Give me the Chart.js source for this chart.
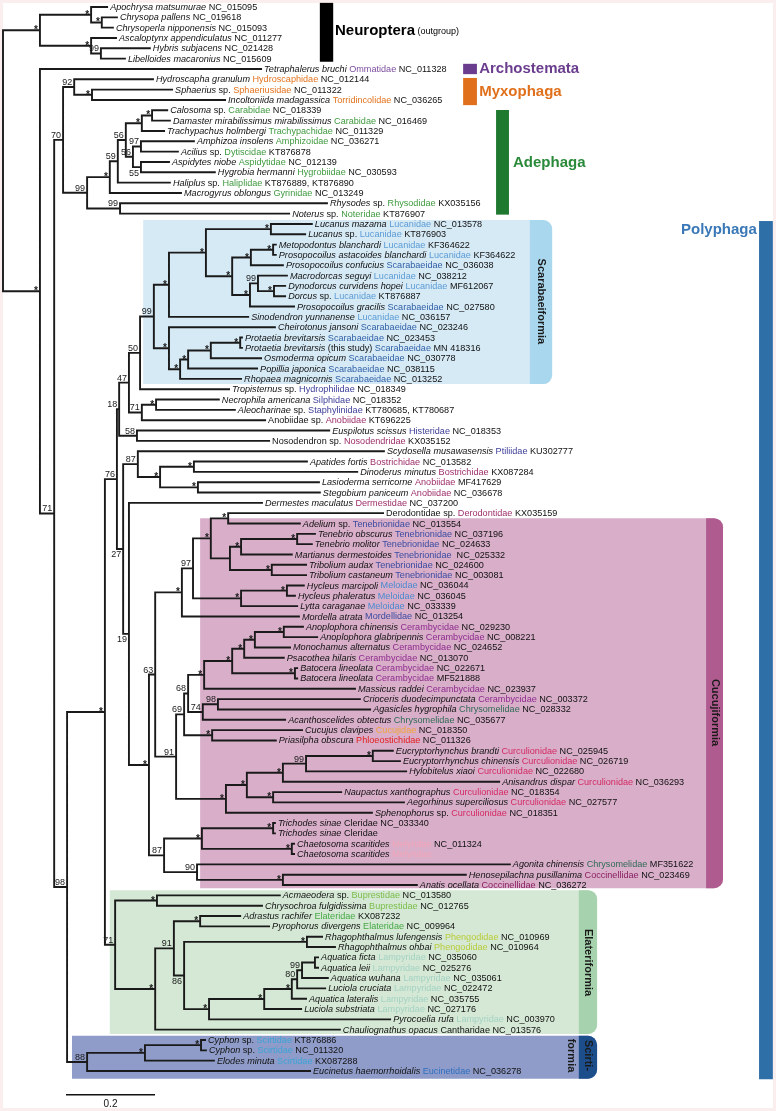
<!DOCTYPE html>
<html><head><meta charset="utf-8">
<script src="https://cdn.jsdelivr.net/npm/chart.js@4.4.0/dist/chart.umd.min.js"></script>
<style>html,body{margin:0;padding:0;background:#fff;}canvas{display:block;}</style>
</head><body>
<canvas id="c" width="776" height="1111"></canvas>
<script>
// ================= DATA =================
// internal nodes: name, parent, depth (substitutions/site), support
const nodeNames = ['ROOT','NEU','CHRY','C2','ASC','A2','CROWN','N71','N70','MYXO','SPH','ADE','ADE1','N59','N56a','CAR','C3','N56b','N97a','N55','RN',
 'N98','POLY1','N76','N18','N47','N50','SCARAB','LUC','LA','LM','LB','LC','LC2','LD','LE','LF','SCA','SCA1','SCA2','SCA3','PRO','N71b','SIL','N58',
 'N27','N87','BOS','BOS1','ANO','N19','CUC','N63','TEN','N97b','TEN2','AD','T230','T241','TM','TRI','MEL','HY','N91','N69','N68','CER','CER2','CER3',
 'CER4','AN','BAT','N74','N98b','CUJ','CUR','CUR2','CUR3','N99c','CUR5','CUR4','N87c','CL','TR','CH','N90','COC','ELAT','BUP','E2','N91e','ELA','N86',
 'RHAG','LAMP','L2','L3','L4','L5','L6','SCIRT','S1','CY'];
const nodeParents = [null,'ROOT','NEU','CHRY','NEU','ASC','ROOT','CROWN','N71','N70','MYXO','N70','ADE','ADE1','N59','N56a','CAR','N56a','N56b','N56b','ADE',
 'N71','N98','POLY1','N76','N18','N47','N50','SCARAB','LUC','LA','LA','LB','LC','LB','LD','LE','SCARAB','SCA','SCA1','SCA2','SCA3','N47','N71b','N18',
 'N76','N27','N87','BOS','BOS','N27','N19','CUC','N63','TEN','N97b','TEN2','TEN2','T230','T241','T230','N97b','MEL','N63','N91','N69','N68','CER','CER2',
 'CER3','CER4','CER2','N68','N74','N69','N91','CUR','CUR2','CUR3','N99c','CUR2','CUC','N87c','CL','CL','N87c','N90','POLY1','ELAT','ELAT','E2','N91e','N91e',
 'N86','N86','LAMP','L2','L3','L4','L5','N98','SCIRT','S1'];
const nodeDepths = [0,0.083,0.198,0.222,0.198,0.220,0.083,0.115,0.135,0.160,0.200,0.189,0.240,0.258,0.276,0.312,0.335,0.292,0.310,0.310,0.263,
 0.144,0.229,0.256,0.261,0.283,0.308,0.339,0.373,0.456,0.602,0.515,0.557,0.607,0.555,0.573,0.609,0.373,0.398,0.416,0.467,0.533,0.312,0.344,0.301,
 0.270,0.303,0.353,0.429,0.438,0.283,0.328,0.342,0.402,0.427,0.467,0.506,0.510,0.535,0.661,0.604,0.535,0.638,0.389,0.407,0.416,0.452,0.515,0.542,
 0.566,0.631,0.656,0.449,0.483,0.470,0.501,0.548,0.629,0.681,0.831,0.607,0.362,0.447,0.607,0.649,0.436,0.629,0.252,0.346,0.342,0.384,0.443,0.407,
 0.683,0.463,0.587,0.649,0.661,0.672,0.701,0.189,0.319,0.445];
const nodeSupport = ['','*','*','*','*','99','*','71','70','92','*','99','*','59','56','*','*','56','97','55','99',
 '98','*','76','18','47','50','99','*','*','*','*','*','*','*','99','*','*','*','*','*','*','71','*','58',
 '27','87','*','*','*','19','*','63','*','97','*','*','','*','*','*','*','*','91','69','68','*','*','*',
 '*','*','*','74','98','*','*','*','*','99','*','*','87','*','*','*','90','*','71','*','*','91','*','86',
 '*','*','*','*','80','99','','88','*','*'];

// tips (top to bottom)
const tipSpecies = ['Apochrysa matsumurae','Chrysopa pallens','Chrysoperla nipponensis','Ascaloptynx appendiculatus','Hybris subjacens','Libelloides macaronius',
 'Tetraphalerus bruchi','Hydroscapha granulum','Sphaerius','Incoltoniida madagassica','Calosoma','Damaster mirabilissimus mirabilissimus','Trachypachus holmbergi',
 'Amphizoa insolens','Acilius','Aspidytes niobe','Hygrobia hermanni','Haliplus','Macrogyrus oblongus','Rhysodes','Noterus',
 'Lucanus mazama','Lucanus','Metopodontus blanchardi','Prosopocoilus astacoides blanchardi','Prosopocoilus confucius','Macrodorcas seguyi','Dynodorcus curvidens hopei',
 'Dorcus','Prosopocoilus gracilis','Sinodendron yunnanense','Cheirotonus jansoni','Protaetia brevitarsis','Protaetia brevitarsis','Osmoderma opicum','Popillia japonica',
 'Rhopaea magnicornis','Tropisternus','Necrophila americana','Aleocharinae','','Euspilotus scissus','','Scydosella musawasensis','Apatides fortis','Dinoderus minutus',
 'Lasioderma serricorne','Stegobium paniceum','Dermestes maculatus','','Adelium','Tenebrio obscurus','Tenebrio molitor','Martianus dermestoides','Tribolium audax',
 'Tribolium castaneum','Hycleus marcipoli','Hycleus phaleratus','Lytta caraganae','Mordella atrata','Anoplophora chinensis','Anoplophora glabripennis',
 'Monochamus alternatus','Psacothea hilaris','Batocera lineolata','Batocera lineolata','Massicus raddei','Crioceris duodecimpunctata','Agasicles hygrophila',
 'Acanthoscelides obtectus','Cucujus clavipes','Priasilpha obscura','Eucryptorhynchus brandti','Eucryptorrhynchus chinensis','Hylobitelus xiaoi','Anisandrus dispar',
 'Naupactus xanthographus','Aegorhinus superciliosus','Sphenophorus','Trichodes sinae','Trichodes sinae','Chaetosoma scaritides','Chaetosoma scaritides',
 'Agonita chinensis','Henosepilachna pusillanima','Anatis ocellata','Acmaeodera','Chrysochroa fulgidissima','Adrastus rachifer','Pyrophorus divergens',
 'Rhagophthalmus lufengensis','Rhagophthalmus ohbai','Aquatica ficta','Aquatica leii','Aquatica wuhana','Luciola cruciata','Aquatica lateralis','Luciola substriata',
 'Pyrocoelia rufa','Chauliognathus opacus','Cyphon','Cyphon','Elodes minuta','Eucinetus haemorrhoidalis'];
const tipQualifier = [
 '','','','','','','','',' sp.','',
 ' sp.','','','',' sp.','','',' sp.','',' sp.',
 ' sp.','',' sp.','','','','','',' sp.','',
 '','','',' (this study)','','','',' sp.','',' sp.',
 'Anobiidae sp.','','Nosodendron sp.','','','','','','','Derodontidae sp.',
 ' sp.','','','','','','','','','',
 '','','','','','','','','','',
 '','','','','','','','',' sp.','',
 '','','','','','',' sp.','','','',
 '','','','','','','','','','',
 ' sp.',' sp.','',''];
const tipFamily = ['','','','','','','Ommatidae','Hydroscaphidae','Sphaeriusidae','Torridincolidae','Carabidae','Carabidae','Trachypachidae','Amphizoidae',
 'Dytiscidae','Aspidytidae','Hygrobiidae','Haliplidae','Gyrinidae','Rhysodidae','Noteridae','Lucanidae','Lucanidae','Lucanidae','Lucanidae','Scarabaeidae',
 'Lucanidae','Lucanidae','Lucanidae','Scarabaeidae','Lucanidae','Scarabaeidae','Scarabaeidae','Scarabaeidae','Scarabaeidae','Scarabaeidae','Scarabaeidae',
 'Hydrophilidae','Silphidae','Staphylinidae','Anobiidae','Histeridae','Nosodendridae','Ptiliidae','Bostrichidae','Bostrichidae','Anobiidae','Anobiidae',
 'Dermestidae','Derodontidae','Tenebrionidae','Tenebrionidae','Tenebrionidae','Tenebrionidae','Tenebrionidae','Tenebrionidae','Meloidae','Meloidae','Meloidae',
 'Mordellidae','Cerambycidae','Cerambycidae','Cerambycidae','Cerambycidae','Cerambycidae','Cerambycidae','Cerambycidae','Cerambycidae','Chrysomelidae',
 'Chrysomelidae','Cucujidae','Phloeostichidae','Curculionidae','Curculionidae','Curculionidae','Curculionidae','Curculionidae','Curculionidae','Curculionidae',
 'Cleridae','Cleridae','Melyridae','Melyridae','Chrysomelidae','Coccinellidae','Coccinellidae','Buprestidae','Buprestidae','Elateridae','Elateridae',
 'Phengodidae','Phengodidae','Lampyridae','Lampyridae','Lampyridae','Lampyridae','Lampyridae','Lampyridae','Lampyridae','Cantharidae','Scirtidae','Scirtidae',
 'Scirtidae','Eucinetidae'];
const tipAccession = ['NC_015095','NC_019618','NC_015093','NC_011277','NC_021428','NC_015609','NC_011328','NC_012144','NC_011322','NC_036265','NC_018339',
 'NC_016469','NC_011329','NC_036271','KT876878','NC_012139','NC_030593','KT876889, KT876890','NC_013249','KX035156','KT876907','NC_013578','KT876903',
 'KF364622','KF364622','NC_036038','NC_038212','MF612067','KT876887','NC_027580','NC_036157','NC_023246','NC_023453','MN 418316','NC_030778','NC_038115',
 'NC_013252','NC_018349','NC_018352','KT780685, KT780687','KT696225','NC_018353','KX035152','KU302777','NC_013582','KX087284','MF417629','NC_036678',
 'NC_037200','KX035159','NC_013554','NC_037196','NC_024633',' NC_025332','NC_024600','NC_003081','NC_036044','NC_036045','NC_033339','NC_013254','NC_029230',
 'NC_008221','NC_024652','NC_013070','NC_022671','MF521888','NC_023937','NC_003372','NC_028332','NC_035677','NC_018350','NC_011326','NC_025945','NC_026719',
 'NC_022680','NC_036293','NC_018354','NC_027577','NC_018351','NC_033340','','NC_011324','','MF351622','NC_023469','NC_036272','NC_013580','NC_012765',
 'KX087232','NC_009964','NC_010969','NC_010964','NC_035060','NC_025276','NC_035061','NC_022472','NC_035755','NC_027176','NC_003970','NC_013576','KT876886',
 'NC_011320','KX087288','NC_036278'];
const tipParents = ['CHRY','C2','C2','ASC','A2','A2','CROWN','MYXO','SPH','SPH','C3','C3','CAR','N97a','N97a','N55','N55','N59','ADE1','RN','RN',
 'LM','LM','LC2','LC2','LC','LE','LF','LF','LD','LUC','SCA','PRO','PRO','SCA3','SCA2','SCA1','N50','SIL','SIL','N71b','N58','N58','N87','BOS1','BOS1',
 'ANO','ANO','N19','AD','AD','TM','TM','T241','TRI','TRI','HY','HY','MEL','TEN','AN','AN','CER4','CER3','BAT','BAT','CER','N98b','N98b','N74','CUJ','CUJ',
 'CUR5','CUR5','N99c','CUR3','CUR4','CUR4','CUR','TR','TR','CH','CH','N90','COC','COC','BUP','BUP','ELA','ELA','RHAG','RHAG','L6','L6','L5','L4','L3','L2',
 'LAMP','E2','CY','CY','S1','SCIRT'];
const tipDepths = [0.234,0.256,0.247,0.254,0.330,0.274,0.580,0.337,0.380,0.499,0.369,0.375,0.362,0.429,0.393,0.373,0.476,0.375,0.400,0.728,0.643,
 0.694,0.679,0.613,0.613,0.629,0.638,0.634,0.634,0.654,0.551,0.611,0.537,0.537,0.580,0.571,0.535,0.508,0.485,0.521,0.589,0.733,0.598,0.856,0.683,0.796,
 0.710,0.712,0.582,0.854,0.667,0.701,0.694,0.649,0.681,0.681,0.676,0.656,0.661,0.665,0.674,0.706,0.645,0.631,0.661,0.661,0.791,0.802,0.825,0.634,0.672,0.613,
 0.876,0.892,0.906,1.115,0.760,0.901,0.829,0.611,0.611,0.654,0.654,1.139,1.040,0.930,0.622,0.582,0.533,0.598,0.717,0.746,0.708,0.708,0.730,0.724,0.681,0.670,
 0.870,0.757,0.454,0.456,0.474,0.690];
const scaleBarLength = 0.2;

// ================= STYLE =================
const F = '"Liberation Sans", Arial, Helvetica, sans-serif';
const TIP_FONT = 9.1;
const familyColors = {
 Ommatidae:'#7d4e9e', Hydroscaphidae:'#e3731e', Sphaeriusidae:'#e3731e', Torridincolidae:'#e3731e',
 Carabidae:'#3f9a3f', Trachypachidae:'#3f9a3f', Amphizoidae:'#3f9a3f', Dytiscidae:'#3f9a3f', Aspidytidae:'#3f9a3f', Hygrobiidae:'#3f9a3f',
 Haliplidae:'#3f9a3f', Gyrinidae:'#3f9a3f', Rhysodidae:'#3f9a3f', Noteridae:'#3f9a3f',
 Lucanidae:'#5b9bd5', Scarabaeidae:'#2f5fa6', Hydrophilidae:'#3d3d99', Silphidae:'#3d3d99', Staphylinidae:'#3d3d99', Histeridae:'#3d3d99', Ptiliidae:'#3d3d99',
 Anobiidae:'#9e2f6b', Nosodendridae:'#9e2f6b', Bostrichidae:'#9e2f6b', Dermestidae:'#9e2f6b', Derodontidae:'#9e2f6b',
 Tenebrionidae:'#3a4ba0', Mordellidae:'#3a4ba0', Meloidae:'#4a8ad0', Cerambycidae:'#8e2b8e', Chrysomelidae:'#2e6b55', Cucujidae:'#f2a33a',
 Phloeostichidae:'#e32020', Curculionidae:'#d42a63', Cleridae:'#111111', Melyridae:'#f4a6b8', Coccinellidae:'#8a2060', Buprestidae:'#7bbd4a',
 Elateridae:'#45a845', Phengodidae:'#b8cc3a', Lampyridae:'#a3d2c3', Cantharidae:'#111111', Scirtidae:'#3ba3d6', Eucinetidae:'#2d6fc0'
};
const labelsBelow = new Set(['N55','N27','N19','N86']);
const cladeBoxes = [
 {lines:['Scarabaeiformia'], first:21, last:36, pad:[0.38,0.5], x0:0.315, tab:1.184, x1:1.234, body:'#d6eaf6', tabColor:'#a9d7ee', shift:0},
 {lines:['Cucujiformia'], first:50, last:85, pad:[0.52,0.3], x0:0.443, tab:1.580, x1:1.618, body:'#d8aec9', tabColor:'#b05b8f', shift:0.8},
 {lines:['Elateriformia'], first:86, last:99, pad:[0.5,0.42], x0:0.240, tab:1.294, x1:1.335, body:'#d5e8d5', tabColor:'#a6d3ad', shift:0},
 {lines:['Scirti-','formia'], first:100, last:103, pad:[0.4,0.75], x0:0.155, tab:1.294, x1:1.335, body:'#8f9cc9', tabColor:'#1c4e8b', shift:0}
];
const orderBars = [
 {text:'Neuroptera', sub:' (outgroup)', color:'#000', barColor:'#000', x0:0.712, x1:0.742, r0:-0.4, r1:5.3, tx:0.746, ty:2.3},
 {text:'Archostemata', color:'#6b3d8e', barColor:'#6b3d8e', x0:1.034, x1:1.065, r0:5.5, r1:6.5, tx:1.070, ty:5.95},
 {text:'Myxophaga', color:'#e0701c', barColor:'#e0701c', x0:1.034, x1:1.065, r0:6.87, r1:9.5, tx:1.070, ty:8.2},
 {text:'Adephaga', color:'#2a8a3a', barColor:'#1f7a30', x0:1.108, x1:1.137, r0:9.97, r1:20.1, tx:1.146, ty:15.1},
 {text:'Polyphaga', color:'#3a78b8', barColor:'#2f6fa8', x0:1.699, x1:1.730, r0:20.72, r1:103.8, tx:1.694, ty:21.6, right:true}
];

// ================= TREE LAYOUT (computed) =================
const nodeIndex = {}; nodeNames.forEach((n,i)=>nodeIndex[n]=i);
const children = nodeNames.map(()=>[]);
nodeParents.forEach((p,i)=>{ if(p!==null) children[nodeIndex[p]].push({type:'node', i}); });
tipParents.forEach((p,i)=>children[nodeIndex[p]].push({type:'tip', i}));
const nodeY = new Array(nodeNames.length).fill(null);
function yOf(c){ return c.type==='tip' ? c.i : computeNodeY(c.i); }
function xOf(c){ return c.type==='tip' ? tipDepths[c.i] : nodeDepths[c.i]; }
function computeNodeY(i){
  if(nodeY[i]!==null) return nodeY[i];
  const ys = children[i].map(yOf);
  nodeY[i] = (Math.min(...ys)+Math.max(...ys))/2;
  return nodeY[i];
}
nodeNames.forEach((_,i)=>computeNodeY(i));

const branchPts = [];
nodeNames.forEach((_,i)=>{
  const ch = children[i].slice().sort((a,b)=>yOf(a)-yOf(b));
  const nx = nodeDepths[i];
  const top = ch[0], bot = ch[ch.length-1];
  branchPts.push({x:xOf(top), y:yOf(top)},{x:nx, y:yOf(top)},{x:nx, y:yOf(bot)},{x:xOf(bot), y:yOf(bot)},{x:null,y:null});
  ch.slice(1,-1).forEach(c=>branchPts.push({x:nx,y:yOf(c)},{x:xOf(c),y:yOf(c)},{x:null,y:null}));
});

// ================= DRAWING PLUGIN =================
const treePlugin = {
  id:'treeDecor',
  beforeDraw(chart){
    const ctx = chart.ctx, W = chart.width, H = chart.height;
    ctx.save();
    ctx.fillStyle = '#fbeeee'; ctx.fillRect(0,0,W,H);
    ctx.fillStyle = '#ffffff'; ctx.fillRect(3,3,W-6,H-6);
    ctx.restore();
  },
  beforeDatasetsDraw(chart){
    const ctx = chart.ctx, sx = chart.scales.x, sy = chart.scales.y;
    ctx.save();
    cladeBoxes.forEach(b=>{
      const x0 = sx.getPixelForValue(b.x0), xt = sx.getPixelForValue(b.tab), x1 = sx.getPixelForValue(b.x1);
      const y0 = sy.getPixelForValue(b.first - b.pad[0]), y1 = sy.getPixelForValue(b.last + b.pad[1]);
      ctx.fillStyle = b.body;
      ctx.beginPath(); ctx.roundRect(x0, y0, x1-x0, y1-y0, [0,9,9,0]); ctx.fill();
      ctx.fillStyle = b.tabColor;
      ctx.beginPath(); ctx.roundRect(xt, y0, x1-xt, y1-y0, [0,9,9,0]); ctx.fill();
      ctx.save();
      const cy = sy.getPixelForValue((b.first + b.last)/2 + b.shift);
      ctx.translate((xt+x1)/2, cy);
      ctx.rotate(Math.PI/2);
      ctx.fillStyle = '#1a1a1a';
      ctx.font = 'bold 11px '+F; ctx.textAlign='center'; ctx.textBaseline='middle';
      b.lines.forEach((t,k)=>ctx.fillText(t, 0, k*17));
      ctx.restore();
    });
    ctx.restore();
  },
  afterDatasetsDraw(chart){
    const ctx = chart.ctx, sx = chart.scales.x, sy = chart.scales.y;
    ctx.save();
    ctx.textBaseline = 'middle'; ctx.textAlign = 'left';
    tipSpecies.forEach((sp,i)=>{
      let x = sx.getPixelForValue(tipDepths[i]) + 3;
      const y = sy.getPixelForValue(i) + 0.5;
      let any = false;
      if(sp){ ctx.font='italic '+TIP_FONT+'px '+F; ctx.fillStyle='#111'; ctx.fillText(sp,x,y); x+=ctx.measureText(sp).width; any=true; }
      const q = tipQualifier[i];
      if(q){ ctx.font=TIP_FONT+'px '+F; ctx.fillStyle='#111'; ctx.fillText(q,x,y); x+=ctx.measureText(q).width; any=true; }
      ctx.font=TIP_FONT+'px '+F;
      const sp1 = ctx.measureText(' ').width;
      const fam = tipFamily[i];
      if(fam){ if(any) x+=sp1; ctx.fillStyle=familyColors[fam]||'#111'; ctx.fillText(fam,x,y); x+=ctx.measureText(fam).width; any=true; }
      const acc = tipAccession[i];
      if(acc){ if(any) x+=sp1; ctx.fillStyle='#111'; ctx.fillText(acc,x,y); }
    });
    ctx.textAlign='right'; ctx.fillStyle='#1a1a1a';
    nodeNames.forEach((n,i)=>{
      const s = nodeSupport[i]; if(!s) return;
      const x = sx.getPixelForValue(nodeDepths[i]) - 2;
      const y = sy.getPixelForValue(nodeY[i]);
      if(s==='*'){
        ctx.font='bold 10px '+F; ctx.textBaseline='alphabetic';
        ctx.fillText('*', x, labelsBelow.has(n) ? y+10 : y+3);
      } else {
        ctx.font='9px '+F;
        if(labelsBelow.has(n)){ ctx.textBaseline='top'; ctx.fillText(s,x,y+1.5); }
        else { ctx.textBaseline='alphabetic'; ctx.fillText(s,x,y-2); }
      }
    });
    orderBars.forEach(o=>{
      const x0=sx.getPixelForValue(o.x0), x1=sx.getPixelForValue(o.x1);
      const y0=sy.getPixelForValue(o.r0), y1=sy.getPixelForValue(o.r1);
      ctx.fillStyle=o.barColor; ctx.fillRect(x0,y0,x1-x0,y1-y0);
      const tx=sx.getPixelForValue(o.tx), ty=sy.getPixelForValue(o.ty);
      ctx.font='bold 15px '+F; ctx.fillStyle=o.color; ctx.textBaseline='middle';
      ctx.textAlign = o.right ? 'right' : 'left';
      ctx.fillText(o.text, tx, ty);
      if(o.sub){ const w=ctx.measureText(o.text).width; ctx.font='9px '+F; ctx.textAlign='left'; ctx.fillText(o.sub, tx+w, ty+1); }
    });
    const bx0 = sx.getPixelForValue(0.1416), bx1 = sx.getPixelForValue(0.1416+scaleBarLength);
    const by = sy.getPixelForValue(105.3);
    ctx.strokeStyle='#111'; ctx.lineWidth=1.3; ctx.beginPath(); ctx.moveTo(bx0,by); ctx.lineTo(bx1,by); ctx.stroke();
    ctx.font='10px '+F; ctx.fillStyle='#111'; ctx.textAlign='center'; ctx.textBaseline='middle';
    ctx.fillText(String(scaleBarLength), (bx0+bx1)/2, sy.getPixelForValue(106.25));
    ctx.restore();
  }
};

new Chart(document.getElementById('c'), {
  type:'scatter',
  data:{ datasets:[{
    data: branchPts, showLine:true, spanGaps:false, pointRadius:0, pointHoverRadius:0,
    borderColor:'#1a1a1a', borderWidth:1.9, borderCapStyle:'square', borderJoinStyle:'miter', tension:0
  }]},
  options:{
    responsive:false, animation:false, events:[],
    layout:{padding:0},
    plugins:{legend:{display:false}, tooltip:{enabled:false}},
    scales:{
      x:{type:'linear', display:false, min:-3/445, max:773/445},
      y:{type:'linear', display:false, reverse:true, min:-7/10.33, max:1104/10.33}
    }
  },
  plugins:[treePlugin]
});
</script>
</body></html>
